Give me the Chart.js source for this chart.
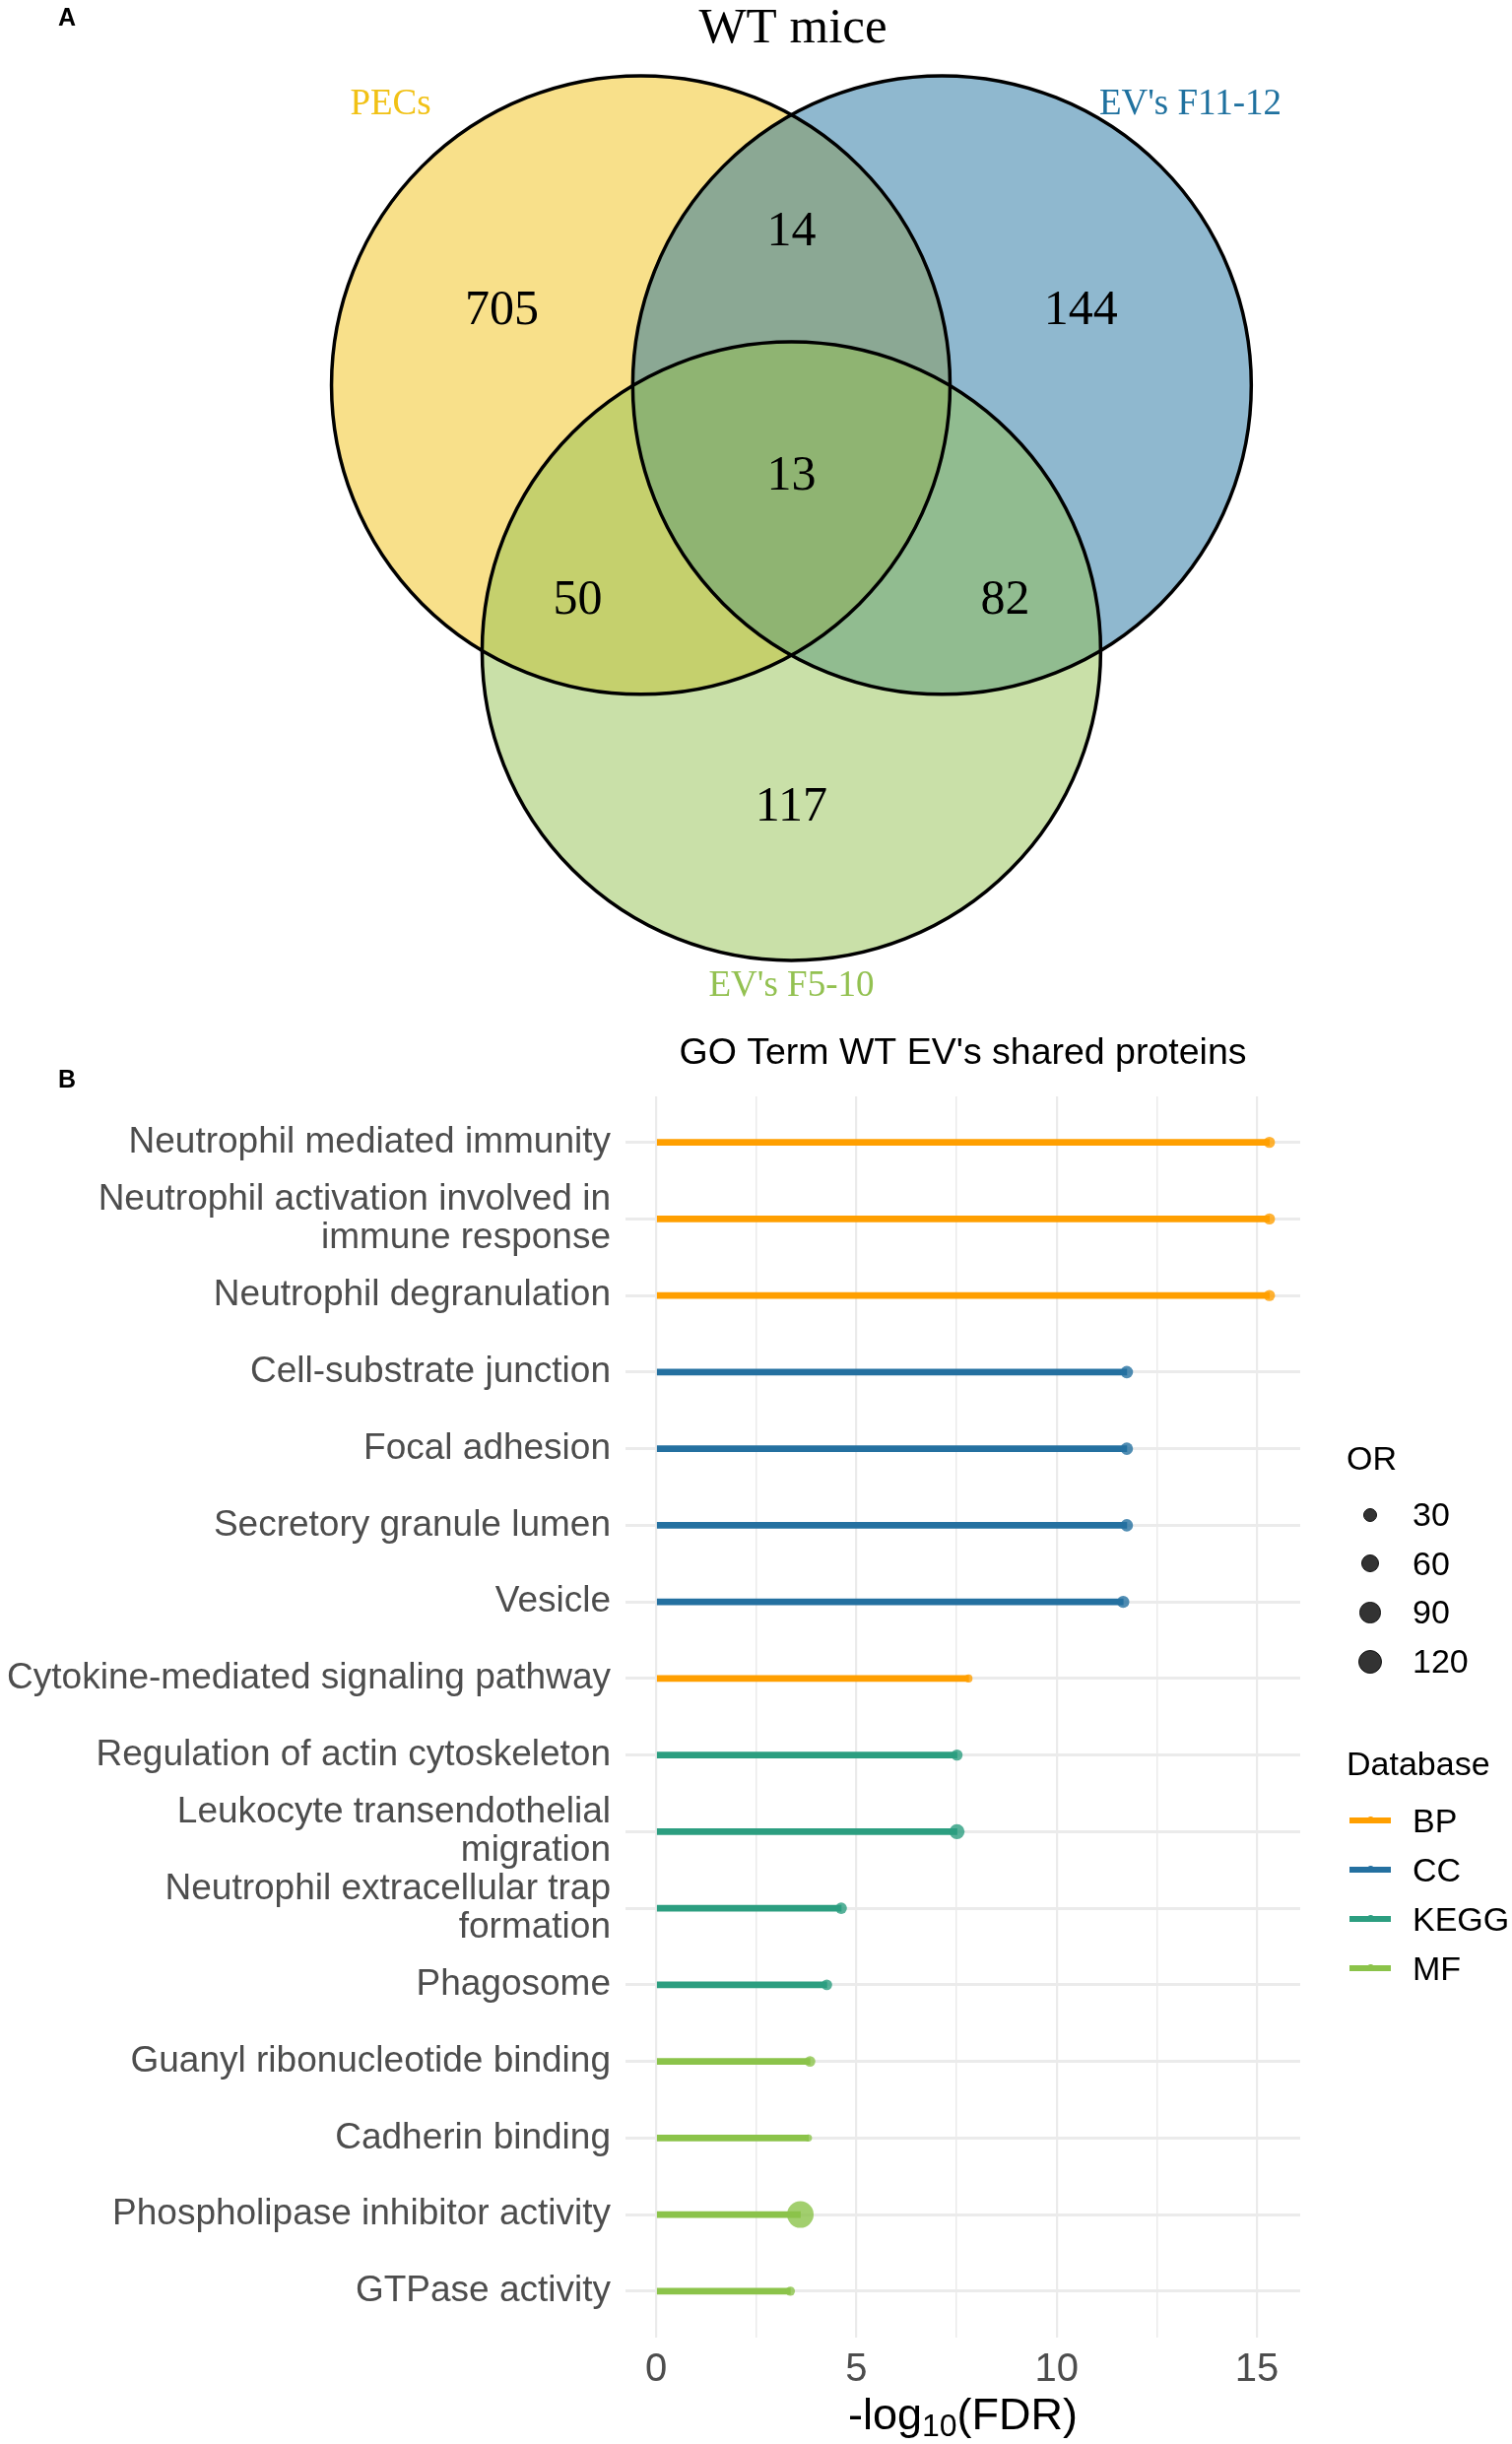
<!DOCTYPE html>
<html>
 <head>
  <title>WT mice - Venn and GO terms</title>
  <style>
  body {
   margin: 0;
   background: #fff;
   font-family: "Liberation Sans", Arial, sans-serif;
  }
  #page {
   position: relative;
   width: 1535px;
   height: 2481px;
  }
  canvas {
   position: absolute;
   left: 0;
  }
  .tag {
   position: absolute;
   left: 59px;
   font-weight: bold;
   font-size: 25px;
   line-height: 25px;
  }
  #xtitle {
   position: absolute;
   left: 635px;
   width: 685px;
   top: 2428px;
   text-align: center;
   font-size: 45px;
   line-height: 45px;
   color: #000;
  }
  #xtitle sub {
   font-size: 32px;
   line-height: 0;
   vertical-align: -7px;
  }
  #legend {
   position: absolute;
   left: 1367px;
   top: 1455px;
   font-size: 34px;
   color: #000;
  }
  .ltitle {
   height: 58px;
   line-height: 50px;
  }
  .litem {
   height: 49.6px;
   line-height: 49.6px;
   display: flex;
   align-items: center;
  }
  .lkey {
   width: 48px;
   height: 30px;
   margin-right: 19px;
   position: relative;
   display: flex;
   align-items: center;
   justify-content: center;
  }
  .dot {
   border-radius: 50%;
   background: #333;
   border: 1px solid #111;
   box-sizing: border-box;
  }
  .seg {
   position: absolute;
   left: 3px;
   width: 42px;
   height: 6px;
   top: 12px;
  }
  </style>
 </head>
 <body>
 <div id="page">
  <canvas id="chart-venn" width="1535" height="1040" style="top:0"></canvas>
  <canvas id="chart-go" width="1535" height="1441" style="top:1040px"></canvas>
  <div class="tag" style="top:5px">A</div>
  <div class="tag" style="top:1083px">B</div>
  <div id="xtitle">-log<sub>10</sub>(FDR)</div>
  <div id="legend"></div>
 </div>
 <script src="https://cdn.jsdelivr.net/npm/chart.js@4.4.1/dist/chart.umd.min.js"></script>
 <script type="text/javascript">
 // ---- panel A data ----
 const setNames = ["PECs", "EV's F11-12", "EV's F5-10"];
 const setColors = ['#F1C115', '#1F719F', '#93C151'];
 const regionCounts = [705, 14, 144, 13, 50, 82, 117];

 // venn layout in units of the circle radius
 const circleCenters = [[-0.487, 0.287], [0.487, 0.287], [0, -0.573]];
 const setLabelPos = [[-1.296, 1.192], [1.29, 1.192], [0, -1.658]];
 const regionPos = [[-0.936, 0.525], [0, 0.78], [0.936, 0.525], [0, -0.01], [-0.691, -0.411], [0.691, -0.411], [0, -1.08]];

 // ---- panel B data ----
 const goTerms = [
  'Neutrophil mediated immunity',
  'Neutrophil activation involved in\nimmune response',
  'Neutrophil degranulation',
  'Cell-substrate junction',
  'Focal adhesion',
  'Secretory granule lumen',
  'Vesicle',
  'Cytokine-mediated signaling pathway',
  'Regulation of actin cytoskeleton',
  'Leukocyte transendothelial\nmigration',
  'Neutrophil extracellular trap\nformation',
  'Phagosome',
  'Guanyl ribonucleotide binding',
  'Cadherin binding',
  'Phospholipase inhibitor activity',
  'GTPase activity'
 ];
 const goDatabase = ['BP', 'BP', 'BP', 'CC', 'CC', 'CC', 'CC', 'BP', 'KEGG', 'KEGG', 'KEGG', 'KEGG', 'MF', 'MF', 'MF', 'MF'];
 const goLogFdr = [15.31, 15.31, 15.31, 11.75, 11.75, 11.75, 11.66, 7.80, 7.51, 7.51, 4.62, 4.26, 3.84, 3.80, 3.60, 3.35];
 const goOR = [16, 16, 16, 22, 22, 22, 21, 4.5, 16, 39, 17, 14, 14, 3.2, 160, 8.3];
 const dbNames = ['BP', 'CC', 'KEGG', 'MF'];
 const dbColors = ['#FF9F00', '#2470A0', '#2C9E80', '#8BC34A'];
 const orBreaks = [30, 60, 90, 120];
 const xGridValues = [0, 2.5, 5, 7.5, 10, 12.5, 15];
 const xTickLabels = [0, 5, 10, 15];

 // point size scale (radius grows with sqrt of OR)
 function orRadius(v) {
  return 2.1 + 0.9 * Math.sqrt(v);
 }
 function dbColor(d) {
  return dbColors[dbNames.indexOf(d)];
 }

 // ---- Venn diagram ----
 const unitRadius = c => c.chart.scales.x.getPixelForValue(1) - c.chart.scales.x.getPixelForValue(0);
 const circlePoints = circleCenters.map(c => ({x: c[0], y: c[1]}));

 const vennText = {
  id: 'vennText',
  afterDatasetsDraw(chart) {
   const ctx = chart.ctx;
   const x = chart.scales.x, y = chart.scales.y;
   ctx.save();
   ctx.textAlign = 'center';
   ctx.textBaseline = 'middle';
   ctx.font = '50px "Liberation Serif"';
   ctx.fillStyle = '#000';
   regionCounts.forEach((n, i) => {
    ctx.fillText(String(n), x.getPixelForValue(regionPos[i][0]), y.getPixelForValue(regionPos[i][1]));
   });
   ctx.font = '37px "Liberation Serif"';
   setNames.forEach((s, i) => {
    ctx.fillStyle = setColors[i];
    ctx.fillText(s, x.getPixelForValue(setLabelPos[i][0]), y.getPixelForValue(setLabelPos[i][1]));
   });
   ctx.restore();
  }
 };

 new Chart(document.getElementById('chart-venn'), {
  type: 'scatter',
  data: {
   datasets: [{
    data: circlePoints,
    pointRadius: unitRadius,
    pointBackgroundColor: setColors.map(c => c + '80'),
    pointBorderWidth: 0,
    clip: false,
    order: 2
   }, {
    data: circlePoints,
    pointRadius: unitRadius,
    pointBackgroundColor: 'rgba(0,0,0,0)',
    pointBorderColor: '#000',
    pointBorderWidth: 3.5,
    clip: false,
    order: 1
   }]
  },
  options: {
   responsive: false,
   animation: false,
   events: [],
   devicePixelRatio: 1,
   layout: { padding: { left: 75, right: 0, top: 0, bottom: 0 } },
   scales: {
    x: { type: 'linear', display: false, min: -2.32, max: 2.33 },
    y: { type: 'linear', display: false, min: -1.78, max: 1.35 }
   },
   plugins: {
    legend: { display: false },
    tooltip: { enabled: false },
    title: {
     display: true,
     text: 'WT mice',
     fullSize: false,
     color: '#000',
     font: { family: '"Liberation Serif"', size: 51, weight: 'normal', lineHeight: 1.06 },
     padding: { top: 3, bottom: 0 }
    }
   }
  },
  plugins: [vennText]
 });

 // ---- GO term lollipop ----
 const goPoints = goLogFdr.map((v, i) => ({x: v, y: i}));

 new Chart(document.getElementById('chart-go'), {
  type: 'bar',
  data: {
   datasets: [{
    type: 'scatter',
    data: goPoints,
    pointRadius: goOR.map(orRadius),
    pointBackgroundColor: goDatabase.map(d => dbColor(d) + 'CC'),
    pointBorderWidth: 0,
    order: 0
   }, {
    type: 'bar',
    indexAxis: 'y',
    data: goPoints,
    backgroundColor: goDatabase.map(dbColor),
    barThickness: 6,
    order: 1
   }]
  },
  options: {
   indexAxis: 'y',
   responsive: false,
   animation: false,
   events: [],
   devicePixelRatio: 1,
   layout: { padding: { left: 0, right: 215, top: 0, bottom: 0 } },
   scales: {
    x: {
     type: 'linear',
     min: -0.766,
     max: 16.08,
     offset: false,
     afterBuildTicks: s => { s.ticks = xGridValues.map(v => ({value: v})); },
     afterFit: s => { s.height = 108.5; },
     border: { display: false },
     grid: {
      offset: false,
      drawTicks: false,
      color: '#EBEBEB',
      lineWidth: c => (c.tick && xTickLabels.includes(c.tick.value)) ? 2.2 : 1.5
     },
     ticks: {
      autoSkip: false,
      maxRotation: 0,
      minRotation: 0,
      padding: 9,
      color: '#4D4D4D',
      font: { family: '"Liberation Sans"', size: 40 },
      callback: v => xTickLabels.includes(v) ? String(v) : ''
     }
    },
    y: {
     type: 'linear',
     reverse: true,
     min: -0.6,
     max: 15.6,
     offset: false,
     afterBuildTicks: s => { s.ticks = goTerms.map((t, i) => ({value: i})); },
     afterFit: s => { s.width = 635; },
     border: { display: false },
     grid: {
      offset: false,
      drawTicks: false,
      color: '#EBEBEB',
      lineWidth: 3
     },
     ticks: {
      autoSkip: false,
      padding: 15,
      color: '#4D4D4D',
      font: { family: '"Liberation Sans"', size: 37, lineHeight: 1.07 },
      callback: v => goTerms[v].split('\n')
     }
    }
   },
   plugins: {
    legend: { display: false },
    tooltip: { enabled: false },
    title: {
     display: true,
     text: "GO Term WT EV's shared proteins",
     fullSize: false,
     color: '#000',
     font: { family: '"Liberation Sans"', size: 37.5, weight: 'normal' },
     padding: { top: 7, bottom: 21 }
    }
   }
  }
 });

 // legends (OR sizes, Database colours)
 let html = '<div class="ltitle">OR</div>';
 orBreaks.forEach(v => {
  const d = 2 * orRadius(v);
  html += '<div class="litem"><span class="lkey"><span class="dot" style="width:' + d + 'px;height:' + d + 'px"></span></span>' + v + '</div>';
 });
 html += '<div class="ltitle" style="margin-top:53.6px">Database</div>';
 dbNames.forEach((n, i) => {
  html += '<div class="litem" style="height:50px;line-height:50px"><span class="lkey"><span class="seg" style="background:' + dbColors[i] + '"></span>' +
   '<span class="dot" style="width:7px;height:7px;border:0;background:' + dbColors[i] + ';position:relative"></span></span>' + n + '</div>';
 });
 document.getElementById('legend').innerHTML = html;
 </script>
 </body>
</html>
